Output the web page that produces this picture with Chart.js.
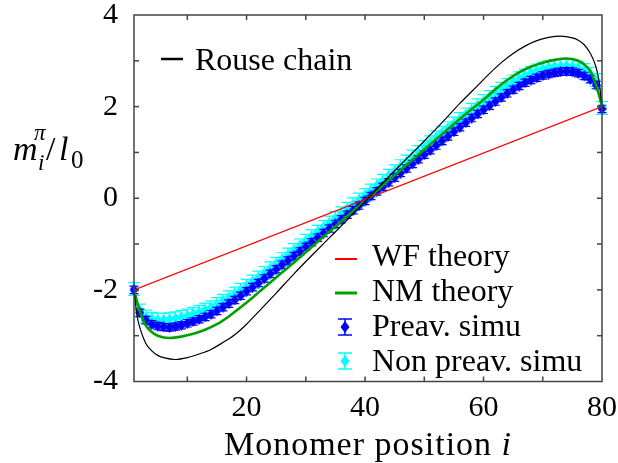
<!DOCTYPE html>
<html>
<head>
<meta charset="utf-8">
<script src="https://cdn.jsdelivr.net/npm/chart.js@4"></script>
<style>
  html, body { margin: 0; padding: 0; background: #fff; }
  #wrap { width: 618px; height: 463px; }
</style>
</head>
<body>
<div id="wrap"><canvas id="chart"></canvas></div>
<script>
// monomer index of the simulation points
const monomers = [
  1, 2, 3, 4, 5, 6, 7, 8, 9, 10, 11, 12, 13, 14, 15, 16, 17, 18, 19, 20,
  21, 22, 23, 24, 25, 26, 27, 28, 29, 30, 31, 32, 33, 34, 35, 36, 37, 38, 39, 40,
  41, 42, 43, 44, 45, 46, 47, 48, 49, 50, 51, 52, 53, 54, 55, 56, 57, 58, 59, 60,
  61, 62, 63, 64, 65, 66, 67, 68, 69, 70, 71, 72, 73, 74, 75, 76, 77, 78, 79, 80
]
const preavSimu = [
  -2.00, -2.50, -2.66, -2.75, -2.79, -2.81, -2.82, -2.80, -2.77, -2.73,
  -2.69, -2.64, -2.59, -2.53, -2.46, -2.38, -2.30, -2.22, -2.13, -2.03,
  -1.94, -1.85, -1.75, -1.65, -1.55, -1.45, -1.36, -1.26, -1.16, -1.06,
  -0.96, -0.86, -0.76, -0.66, -0.56, -0.46, -0.36, -0.26, -0.16, -0.06,
  0.05, 0.15, 0.25, 0.35, 0.45, 0.55, 0.65, 0.75, 0.85, 0.95,
  1.05, 1.15, 1.25, 1.35, 1.45, 1.55, 1.65, 1.75, 1.84, 1.93,
  2.02, 2.11, 2.20, 2.29, 2.37, 2.45, 2.52, 2.58, 2.63, 2.68,
  2.71, 2.74, 2.76, 2.77, 2.76, 2.73, 2.67, 2.60, 2.47, 1.95
]
const nonPreavSimu = [
  -1.98, -2.45, -2.58, -2.63, -2.65, -2.65, -2.64, -2.62, -2.59, -2.56,
  -2.52, -2.48, -2.43, -2.38, -2.31, -2.24, -2.16, -2.08, -2.00, -1.91,
  -1.82, -1.73, -1.63, -1.53, -1.43, -1.33, -1.23, -1.13, -1.03, -0.93,
  -0.83, -0.73, -0.63, -0.53, -0.43, -0.33, -0.23, -0.13, -0.03, 0.07,
  0.17, 0.28, 0.38, 0.49, 0.59, 0.70, 0.80, 0.91, 1.01, 1.12,
  1.22, 1.33, 1.43, 1.53, 1.63, 1.73, 1.83, 1.93, 2.03, 2.12,
  2.21, 2.30, 2.39, 2.47, 2.55, 2.62, 2.68, 2.74, 2.79, 2.83,
  2.86, 2.88, 2.89, 2.89, 2.88, 2.85, 2.80, 2.72, 2.58, 1.97
]
const preavErr = 0.08
const nonPreavErr = 0.14

const wfX = [1, 80]
const wfTheory = [-2, 2]

const nmX = [1, 1.5, 2, 3, 4, 5, 7, 9, 11, 13, 15, 17, 19, 21, 24, 28, 32, 36, 40.5,
  45, 49, 53, 57, 60, 62, 64, 66, 68, 70, 72, 74, 76, 77, 78, 79, 79.5, 80]
const nmTheory = [-2.0, -2.25, -2.47, -2.78, -2.92, -3.0, -3.05, -3.02, -2.96, -2.87,
  -2.75, -2.58, -2.38, -2.17, -1.84, -1.40, -0.95, -0.50, 0,
  0.50, 0.95, 1.40, 1.84, 2.15, 2.38, 2.58, 2.75, 2.87, 2.96, 3.02, 3.05, 3.00, 2.92,
  2.78, 2.47, 2.25, 2.0]

const rouseX = [1, 1.5, 2, 3, 4, 5, 6, 8, 10, 12, 14, 16, 18, 20, 22, 25, 28, 31, 34, 37, 40.5,
  44, 47, 50, 53, 56, 59, 61, 63, 65, 67, 69, 71, 73, 75, 76, 77, 78, 79, 79.5, 80]
const rouseChain = [-2.0, -2.55, -2.83, -3.17, -3.33, -3.43, -3.48, -3.52, -3.48, -3.40,
  -3.30, -3.15, -2.98, -2.75, -2.48, -2.07, -1.65, -1.25, -0.86, -0.47, 0,
  0.47, 0.86, 1.25, 1.65, 2.07, 2.46, 2.72, 2.96, 3.16, 3.32, 3.44, 3.51, 3.54, 3.50,
  3.45, 3.35, 3.17, 2.86, 2.55, 2.0]

const xTicks = [20, 40, 60, 80]
const yTicks = [-4, -2, 0, 2, 4]
const xMinorTicks = [10, 20, 30, 40, 50, 60, 70]
const yMinorTicks = [-3, -2, -1, 0, 1, 2, 3]

const FONT = '"Liberation Serif", "Times New Roman", serif'

const pts = (xs, ys) => xs.map((x, i) => ({ x, y: ys[i] }))

function diamond(ctx, cx, cy, w, h, color) {
  ctx.fillStyle = color
  ctx.beginPath()
  ctx.moveTo(cx, cy - h / 2); ctx.lineTo(cx + w / 2, cy)
  ctx.lineTo(cx, cy + h / 2); ctx.lineTo(cx - w / 2, cy)
  ctx.closePath(); ctx.fill()
}

// slightly tall diamond marker used as pointStyle
function diamondMarker(color) {
  const c = document.createElement('canvas')
  c.width = 9; c.height = 11
  diamond(c.getContext('2d'), 4.5, 5.5, 9, 11, color)
  return c
}

// vertical error bars with caps, drawn under the markers of their dataset
const errorBars = {
  id: 'errorBars',
  beforeDatasetDraw(chart, args) {
    const ds = chart.data.datasets[args.index]
    if (ds.errorBar === undefined) return
    const { ctx, scales: { x, y } } = chart
    ctx.save()
    ctx.strokeStyle = ds.borderColor
    ctx.lineWidth = 1.2
    ds.data.forEach(p => {
      const px = x.getPixelForValue(p.x)
      const top = y.getPixelForValue(p.y + ds.errorBar)
      const bot = y.getPixelForValue(p.y - ds.errorBar)
      ctx.beginPath()
      ctx.moveTo(px, top); ctx.lineTo(px, bot)
      ctx.moveTo(px - ds.capHalf, top); ctx.lineTo(px + ds.capHalf, top)
      ctx.moveTo(px - ds.capHalf, bot); ctx.lineTo(px + ds.capHalf, bot)
      ctx.stroke()
    })
    ctx.restore()
  }
}

function line(ctx, x1, y1, x2, y2) {
  ctx.beginPath(); ctx.moveTo(x1, y1); ctx.lineTo(x2, y2); ctx.stroke()
}

function errKey(ctx, cx, cy, color) {
  ctx.strokeStyle = color
  ctx.lineWidth = 1.5
  line(ctx, cx, cy - 8, cx, cy + 8)
  line(ctx, cx - 7, cy - 8, cx + 7, cy - 8)
  line(ctx, cx - 7, cy + 8, cx + 7, cy + 8)
  diamond(ctx, cx, cy, 9, 12, color)
}

// frame with inward ticks on all sides, axis titles and the two keys
const frame = {
  id: 'frame',
  afterDraw(chart) {
    const { ctx, chartArea: a, scales: { x, y } } = chart
    ctx.save()
    ctx.strokeStyle = '#444'
    ctx.lineWidth = 1.5
    ctx.strokeRect(a.left, a.top, a.right - a.left, a.bottom - a.top)
    const tl = 5
    xMinorTicks.forEach(v => {
      const px = x.getPixelForValue(v)
      line(ctx, px, a.bottom, px, a.bottom - tl)
      line(ctx, px, a.top, px, a.top + tl)
    })
    yMinorTicks.forEach(v => {
      const py = y.getPixelForValue(v)
      line(ctx, a.left, py, a.left + tl, py)
      line(ctx, a.right, py, a.right - tl, py)
    })

    ctx.fillStyle = '#000'
    ctx.textBaseline = 'alphabetic'
    ctx.textAlign = 'left'

    // x title
    const main = 'Monomer position '
    ctx.letterSpacing = '1px'
    ctx.font = 'italic 34px ' + FONT
    const wi = ctx.measureText('i').width
    ctx.font = '34px ' + FONT
    const wm = ctx.measureText(main).width
    const x0 = (a.left + a.right) / 2 - (wm + wi) / 2
    ctx.fillText(main, x0, 455)
    ctx.font = 'italic 34px ' + FONT
    ctx.fillText('i', x0 + wm, 455)
    ctx.letterSpacing = '0px'

    // y title  m_i^pi / l_0
    ctx.font = 'italic 34px ' + FONT
    ctx.fillText('m', 13, 160)
    ctx.font = 'italic 23px ' + FONT
    ctx.fillText('i', 38, 170)
    ctx.fillText('\u03c0', 34, 140)
    ctx.font = '34px ' + FONT
    ctx.fillText('/', 46, 160)
    ctx.font = 'italic 34px ' + FONT
    ctx.fillText('l', 59, 160)
    ctx.font = '25px ' + FONT
    ctx.fillText('0', 71, 168)

    // top-left key
    ctx.font = '32px ' + FONT
    ctx.strokeStyle = '#000'
    ctx.lineWidth = 2.5
    line(ctx, 161, 59, 183, 59)
    ctx.fillText('Rouse chain', 195, 70)

    // lower-right key
    const kx = 372
    ctx.strokeStyle = '#ff0000'
    ctx.lineWidth = 2
    line(ctx, 335, 259, 357, 259)
    ctx.fillText('WF theory', kx, 266)
    ctx.strokeStyle = '#00a000'
    ctx.lineWidth = 3
    line(ctx, 335, 293, 357, 293)
    ctx.fillText('NM theory', kx, 301)
    errKey(ctx, 345, 327, '#0000ff')
    ctx.fillStyle = '#000'
    ctx.fillText('Preav. simu', kx, 336)
    errKey(ctx, 345, 361, '#00ffff')
    ctx.fillStyle = '#000'
    ctx.fillText('Non preav. simu', kx, 371)
    ctx.restore()
  }
}

const config = {
  type: 'line',
  data: {
    datasets: [
      {
        label: 'Rouse chain',
        data: pts(rouseX, rouseChain),
        borderColor: '#000000',
        borderWidth: 1.2,
        pointRadius: 0,
        cubicInterpolationMode: 'monotone',
        order: 1
      },
      {
        label: 'WF theory',
        data: pts(wfX, wfTheory),
        borderColor: '#ff0000',
        borderWidth: 1.3,
        pointRadius: 0,
        order: 2
      },
      {
        label: 'NM theory',
        data: pts(nmX, nmTheory),
        borderColor: '#00a000',
        borderWidth: 2.6,
        pointRadius: 0,
        cubicInterpolationMode: 'monotone',
        order: 3
      },
      {
        label: 'Preav. simu',
        data: pts(monomers, preavSimu),
        showLine: false,
        borderColor: '#0000ff',
        backgroundColor: '#0000ff',
        pointStyle: diamondMarker('#0000ff'),
        pointRadius: 5,
        errorBar: preavErr,
        capHalf: 4.5,
        clip: false,
        order: 4
      },
      {
        label: 'Non preav. simu',
        data: pts(monomers, nonPreavSimu),
        showLine: false,
        borderColor: '#00ffff',
        backgroundColor: '#00ffff',
        pointStyle: diamondMarker('#00ffff'),
        pointRadius: 5,
        errorBar: nonPreavErr,
        capHalf: 6,
        clip: false,
        order: 5
      }
    ]
  },
  options: {
    responsive: true,
    maintainAspectRatio: false,
    animation: false,
    layout: { padding: { top: 15, right: 16, bottom: 0, left: 0 } },
    plugins: {
      legend: { display: false },
      tooltip: { enabled: false }
    },
    scales: {
      x: {
        type: 'linear',
        min: 1,
        max: 80,
        grid: { display: false, drawTicks: false },
        border: { display: false },
        afterBuildTicks: s => { s.ticks = xTicks.map(v => ({ value: v })) },
        afterFit: s => { s.height = 81.5; s.paddingLeft = 0; s.paddingRight = 0 },
        ticks: { color: '#000', padding: 12, font: { family: FONT, size: 30, lineHeight: 1 } }
      },
      y: {
        type: 'linear',
        min: -4,
        max: 4,
        grid: { display: false, drawTicks: false },
        border: { display: false },
        afterBuildTicks: s => { s.ticks = yTicks.map(v => ({ value: v })) },
        afterFit: s => { s.width = 134; s.paddingTop = 0; s.paddingBottom = 0 },
        ticks: { color: '#000', padding: 16, font: { family: FONT, size: 30, lineHeight: 1 } }
      }
    }
  },
  plugins: [errorBars, frame]
}

new Chart(document.getElementById('chart'), config)
</script>
</body>
</html>
